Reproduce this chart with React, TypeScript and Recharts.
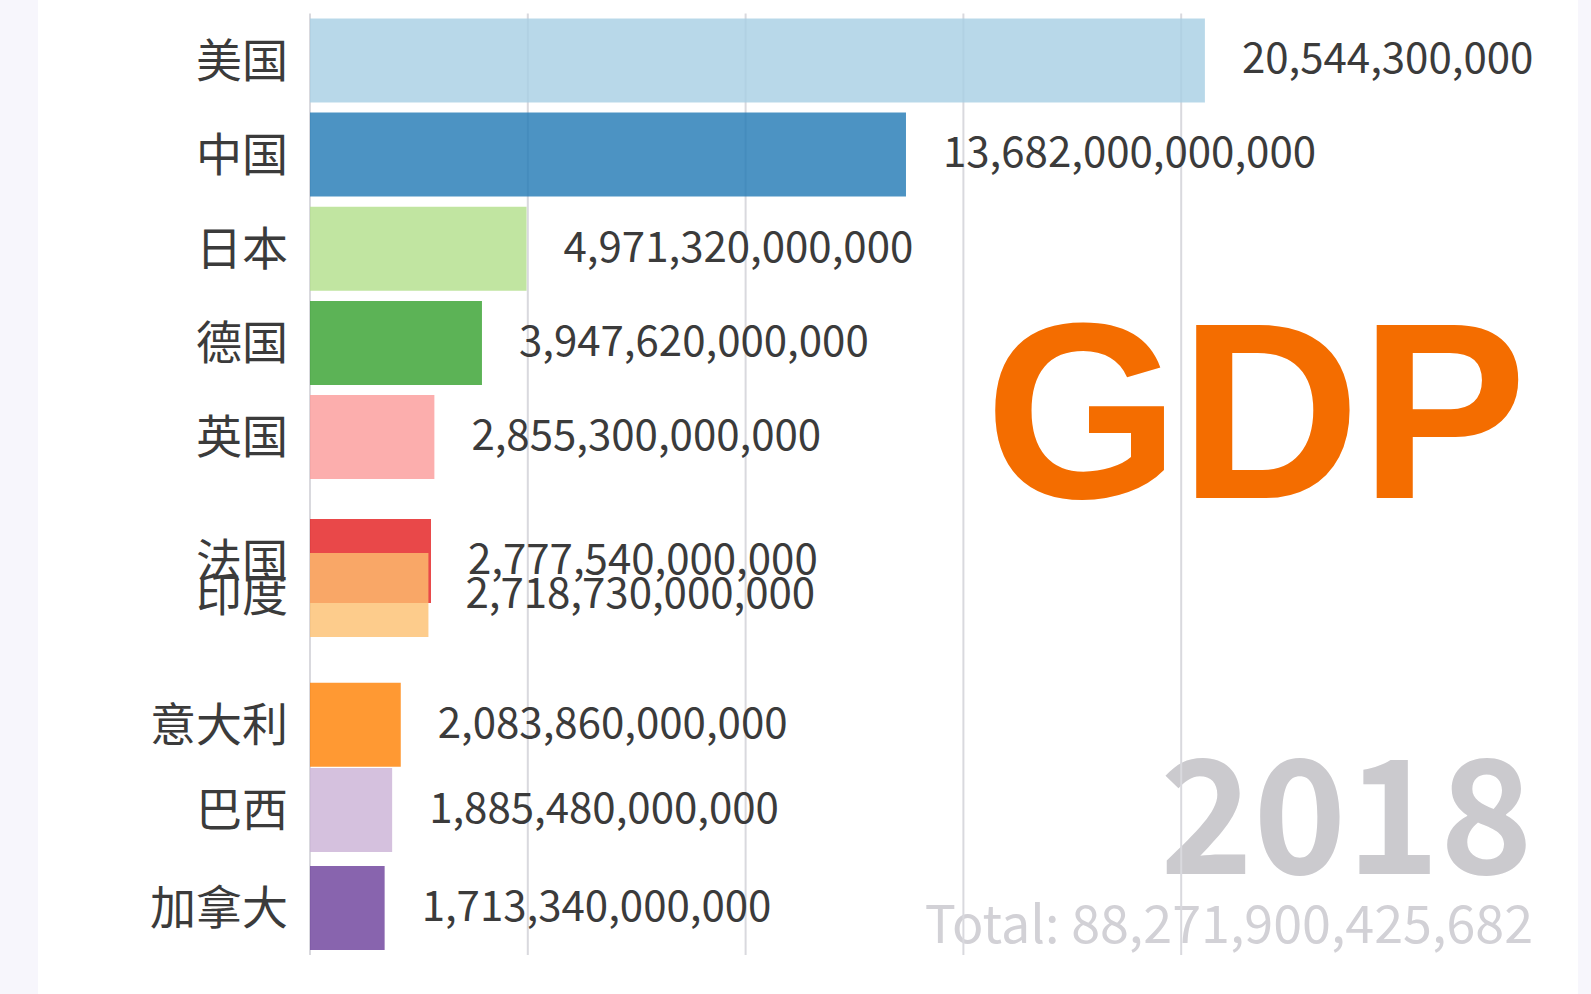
import React from 'react';
import { BarChart, Bar, XAxis, YAxis, CartesianGrid, LabelList, Cell, Rectangle } from 'recharts';

// 2018 frame of the GDP bar chart race
const countries = ['美国', '中国', '日本', '德国', '英国', '法国', '印度', '意大利', '巴西', '加拿大'];
const gdp = [
  20544300000000, 13682000000000, 4971320000000, 3947620000000, 2855300000000,
  2777540000000, 2718730000000, 2083860000000, 1885480000000, 1713340000000,
];
// value labels as printed in the frame
const valueLabels = [
  '20,544,300,000', '13,682,000,000,000', '4,971,320,000,000', '3,947,620,000,000', '2,855,300,000,000',
  '2,777,540,000,000', '2,718,730,000,000', '2,083,860,000,000', '1,885,480,000,000', '1,713,340,000,000',
];
// interpolated rank of every bar in this frame (France/India are mid-swap)
const ranks = [1, 2, 3, 4, 5, 6.315, 6.676, 8.056, 8.959, 10];
const colors = ['#a6cee3', '#1f78b4', '#b2df8a', '#33a02c', '#fb9a99', '#e31a1c', '#fdbf6f', '#ff7f00', '#cab2d6', '#6a3d9a'];
const gdpTicks = [0, 5e12, 10e12, 15e12, 20e12];
const year = '2018';
const totalText = 'Total: 88,271,900,425,682';

const data = countries.map((name, i) => ({ name, gdp: gdp[i], rank: ranks[i], label: valueLabels[i] }));

const W = 1591;
const H = 994;
const BAR_THICK = 84;
const FONT = '"Noto Sans CJK SC", "Noto Sans", sans-serif';

// numeric rank axis makes recharts shrink the band, so redraw each bar at full thickness around its centre
const RankBar = (props: any) => {
  const { x, y, width, height, fill } = props;
  const cy = y + height / 2;
  return <Rectangle x={x} y={cy - BAR_THICK / 2} width={width} height={BAR_THICK} fill={fill} fillOpacity={0.8} />;
};

const nameOfRank = (v: number) => {
  const i = ranks.indexOf(v);
  return i >= 0 ? countries[i] : '';
};

export default function App() {
  return (
    <div style={{ position: 'absolute', left: 0, top: 0, width: W, height: H, background: '#ffffff', overflow: 'hidden' }}>
      <div style={{ position: 'absolute', left: 0, top: 0, width: 38, height: H, background: '#f7f6fc' }} />
      <div style={{ position: 'absolute', left: 1578, top: 0, width: W - 1578, height: H, background: '#f7f6fc' }} />

      {/* titles sit under the chart so the grid lines run across them */}
      <svg width={W} height={H} style={{ position: 'absolute', left: 0, top: 0 }}>
        <text x={985} y={498} fontFamily='"Liberation Sans", Arial, sans-serif' fontWeight={700} fontSize={250} fill="#f46d00">
          GDP
        </text>
        <text x={1533} y={874} textAnchor="end" fontFamily={FONT} fontWeight={700} fontSize={158} fill="#cbcace">
          {year}
        </text>
        <text x={1533} y={943} textAnchor="end" fontFamily={FONT} fontWeight={400} fontSize={52} fill="#d2d1d6">
          {totalText}
        </text>
      </svg>

      <div style={{ position: 'absolute', left: 0, top: 0 }}>
        <BarChart
          width={W}
          height={H}
          data={data}
          layout="vertical"
          margin={{ top: 13.4, right: 192, bottom: 38.9, left: 0 }}
        >
          <CartesianGrid horizontal={false} verticalValues={gdpTicks} stroke="#d9d9de" strokeWidth={2} />
          <XAxis type="number" dataKey="gdp" domain={[0, 25e12]} ticks={gdpTicks} hide />
          <YAxis
            type="number"
            dataKey="rank"
            domain={[0.5, 10.5]}
            ticks={ranks}
            interval={0}
            width={310}
            axisLine={false}
            tickLine={false}
            tickSize={0}
            tickMargin={22}
            tickFormatter={nameOfRank}
            tick={{ fill: '#3b3b3b', fontFamily: FONT, fontSize: 46 }}
          />
          <Bar dataKey="gdp" shape={RankBar} isAnimationActive={false}>
            {data.map((d, i) => (
              <Cell key={d.name} fill={colors[i]} />
            ))}
            <LabelList
              dataKey="label"
              position="right"
              offset={37}
              fill="#3b3b3b"
              dy={-2}
              style={{ fontFamily: FONT, fontSize: 42 }}
            />
          </Bar>
        </BarChart>
      </div>
    </div>
  );
}
